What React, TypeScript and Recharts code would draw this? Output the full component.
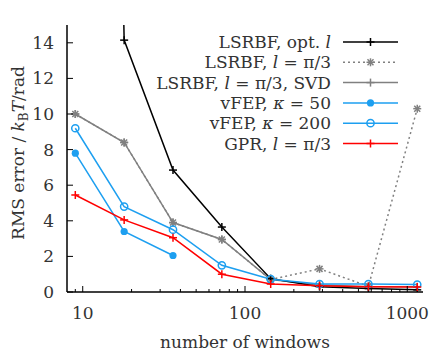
import { LineChart, Line, XAxis, YAxis } from "recharts";

const windows = [9, 18, 36, 72, 144, 288, 576, 1152];
const lsrbfOpt = [150, 14.15, 6.85, 3.65, 0.75, 0.3, 0.2, 0.12];
const lsrbfPi3 = [10.0, 8.4, 3.9, 2.95, 0.7, 1.3, 0.32, 10.3];
const lsrbfSvd = [10.0, 8.4, 3.9, 2.95, 0.7, 0.4, 0.3, 0.3];
const vfep50 = [7.8, 3.4, 2.05, null, null, null, null, null];
const vfep200 = [9.2, 4.8, 3.5, 1.5, 0.72, 0.45, 0.45, 0.42];
const gpr = [5.45, 4.05, 3.05, 1.0, 0.45, 0.35, 0.3, 0.28];

const yTicks = [0, 2, 4, 6, 8, 10, 12, 14];
const xMajor = [10, 100, 1000];
const xTicks = [9, 10, 20, 30, 40, 50, 60, 70, 80, 90, 100, 200, 300, 400, 500, 600, 700, 800, 900, 1000];

const data = windows.map((n, i) => ({
  n,
  opt: lsrbfOpt[i],
  pi3: lsrbfPi3[i],
  svd: lsrbfSvd[i],
  k50: vfep50[i],
  k200: vfep200[i],
  gpr: gpr[i],
}));

const BLUE = "#1d9ff0";
const GRAY = "#808080";
const RED = "#ff0000";
const FONT = "'DejaVu Serif', serif";
const FS = 17;
const TXT = "#333";

type Marker = "plus" | "star" | "dot" | "ring";

function mark(kind: Marker, x: number, y: number, color: string, key?: any) {
  if (kind === "plus")
    return (
      <g key={key}>
        <line x1={x - 4} x2={x + 4} y1={y} y2={y} stroke={color} strokeWidth={1.5} />
        <line x1={x} x2={x} y1={y - 4} y2={y + 4} stroke={color} strokeWidth={1.5} />
      </g>
    );
  if (kind === "star")
    return (
      <g key={key}>
        <line x1={x - 4} x2={x + 4} y1={y} y2={y} stroke={color} strokeWidth={1.5} />
        <line x1={x} x2={x} y1={y - 4} y2={y + 4} stroke={color} strokeWidth={1.5} />
        <line x1={x - 3} x2={x + 3} y1={y - 3} y2={y + 3} stroke={color} strokeWidth={1.5} />
        <line x1={x - 3} x2={x + 3} y1={y + 3} y2={y - 3} stroke={color} strokeWidth={1.5} />
      </g>
    );
  if (kind === "dot") return <circle key={key} cx={x} cy={y} r={3.6} fill={color} />;
  return <circle key={key} cx={x} cy={y} r={3.6} fill="none" stroke={color} strokeWidth={1.5} />;
}

const dotFor = (kind: Marker, color: string) => (p: any) => {
  if (p.value == null || p.cx == null || p.cy == null || isNaN(p.cy)) return <g key={p.index} />;
  return mark(kind, p.cx, p.cy, color, p.index);
};

const BottomTick = (p: any) => {
  const v = p.payload.value;
  const major = xMajor.includes(v);
  return (
    <g>
      <line x1={p.x} x2={p.x} y1={p.y} y2={p.y - (major ? 6 : 3)} stroke="#000" strokeWidth={1} />
      {major && (
        <text x={p.x} y={p.y + 27} textAnchor="middle" fontFamily={FONT} fontSize={FS} fill={TXT}>
          {v}
        </text>
      )}
    </g>
  );
};

const TopTick = (p: any) => {
  const major = xMajor.includes(p.payload.value);
  return <line x1={p.x} x2={p.x} y1={p.y} y2={p.y + (major ? 6 : 3)} stroke="#000" strokeWidth={1} />;
};

const LeftTick = (p: any) => (
  <g>
    <line x1={p.x} x2={p.x + 6} y1={p.y} y2={p.y} stroke="#000" strokeWidth={1} />
    <text x={p.x - 13} y={p.y + 6} textAnchor="end" fontFamily={FONT} fontSize={FS} fill={TXT}>
      {p.payload.value}
    </text>
  </g>
);

const RightTick = (p: any) => (
  <line x1={p.x} x2={p.x - 6} y1={p.y} y2={p.y} stroke="#000" strokeWidth={1} />
);

const legendRows: { parts: [string, boolean][]; color: string; dash?: string; marker: Marker }[] = [
  { parts: [["LSRBF, opt. ", false], ["l", true]], color: "#000", marker: "plus" },
  { parts: [["LSRBF, ", false], ["l", true], [" = π/3", false]], color: GRAY, dash: "2 3", marker: "star" },
  { parts: [["LSRBF, ", false], ["l", true], [" = π/3, SVD", false]], color: GRAY, marker: "plus" },
  { parts: [["vFEP, ", false], ["κ", true], [" = 50", false]], color: BLUE, marker: "dot" },
  { parts: [["vFEP, ", false], ["κ", true], [" = 200", false]], color: BLUE, marker: "ring" },
  { parts: [["GPR, ", false], ["l", true], [" = π/3", false]], color: RED, marker: "plus" },
];

export default function App() {
  return (
    <div style={{ position: "absolute", left: 0, top: 0, width: 436, height: 358, background: "#fff" }}>
      <LineChart width={436} height={358} data={data} margin={{ top: 25, right: 13, left: 0, bottom: 0 }}>
        <XAxis
          dataKey="n"
          type="number"
          scale="log"
          domain={[8, 1250]}
          allowDataOverflow
          ticks={xTicks}
          tick={BottomTick}
          tickSize={0}
          tickMargin={0}
          height={66}
          interval={0}
          axisLine={{ stroke: "#000", strokeWidth: 1.5 }}
          tickLine={false}
        />
        <XAxis
          xAxisId="top"
          orientation="top"
          dataKey="n"
          type="number"
          scale="log"
          domain={[8, 1250]}
          allowDataOverflow
          ticks={xTicks}
          tick={TopTick}
          tickSize={0}
          tickMargin={0}
          height={0}
          interval={0}
          axisLine={{ stroke: "#000", strokeWidth: 1.5 }}
          tickLine={false}
        />
        <YAxis
          type="number"
          domain={[0, 15]}
          allowDataOverflow
          ticks={yTicks}
          tick={LeftTick}
          tickSize={0}
          tickMargin={0}
          width={67}
          interval={0}
          axisLine={{ stroke: "#000", strokeWidth: 1.5 }}
          tickLine={false}
        />
        <YAxis
          yAxisId="right"
          orientation="right"
          type="number"
          domain={[0, 15]}
          allowDataOverflow
          ticks={yTicks}
          tick={RightTick}
          tickSize={0}
          tickMargin={0}
          width={0}
          interval={0}
          axisLine={{ stroke: "#000", strokeWidth: 1.5 }}
          tickLine={false}
        />
        <Line dataKey="svd" stroke={GRAY} strokeWidth={1.5} dot={dotFor("plus", GRAY)} isAnimationActive={false} />
        <Line dataKey="pi3" stroke={GRAY} strokeWidth={1.5} strokeDasharray="2 3" dot={dotFor("star", GRAY)} isAnimationActive={false} />
        <Line dataKey="opt" stroke="#000" strokeWidth={1.5} dot={dotFor("plus", "#000")} isAnimationActive={false} />
        <Line dataKey="k50" stroke={BLUE} strokeWidth={1.5} dot={dotFor("dot", BLUE)} isAnimationActive={false} />
        <Line dataKey="k200" stroke={BLUE} strokeWidth={1.5} dot={dotFor("ring", BLUE)} isAnimationActive={false} />
        <Line dataKey="gpr" stroke={RED} strokeWidth={1.5} dot={dotFor("plus", RED)} isAnimationActive={false} />
      </LineChart>
      <svg width={436} height={358} style={{ position: "absolute", left: 0, top: 0, pointerEvents: "none" }}>
        {legendRows.map((r, i) => {
          const y = 42 + i * 20.3;
          return (
            <g key={i}>
              <text x={331} y={y + 6} textAnchor="end" fontFamily={FONT} fontSize={FS} fill={TXT}>
                {r.parts.map(([t, it], j) => (
                  <tspan key={j} fontStyle={it ? "italic" : "normal"}>
                    {t}
                  </tspan>
                ))}
              </text>
              <line x1={343} x2={398} y1={y} y2={y} stroke={r.color} strokeWidth={1.5} strokeDasharray={r.dash} />
              {mark(r.marker, 370.5, y, r.color)}
            </g>
          );
        })}
        <text
          transform="translate(24,153) rotate(-90)"
          textAnchor="middle"
          fontFamily={FONT}
          fontSize={FS}
          fill={TXT}
        >
          RMS error / <tspan fontStyle="italic">k</tspan>
          <tspan fontSize={12} dy={4}>B</tspan>
          <tspan fontStyle="italic" dy={-4}>T</tspan>/rad
        </text>
        <text x={245} y={348} textAnchor="middle" fontFamily={FONT} fontSize={FS} fill={TXT}>
          number of windows
        </text>
      </svg>
    </div>
  );
}
